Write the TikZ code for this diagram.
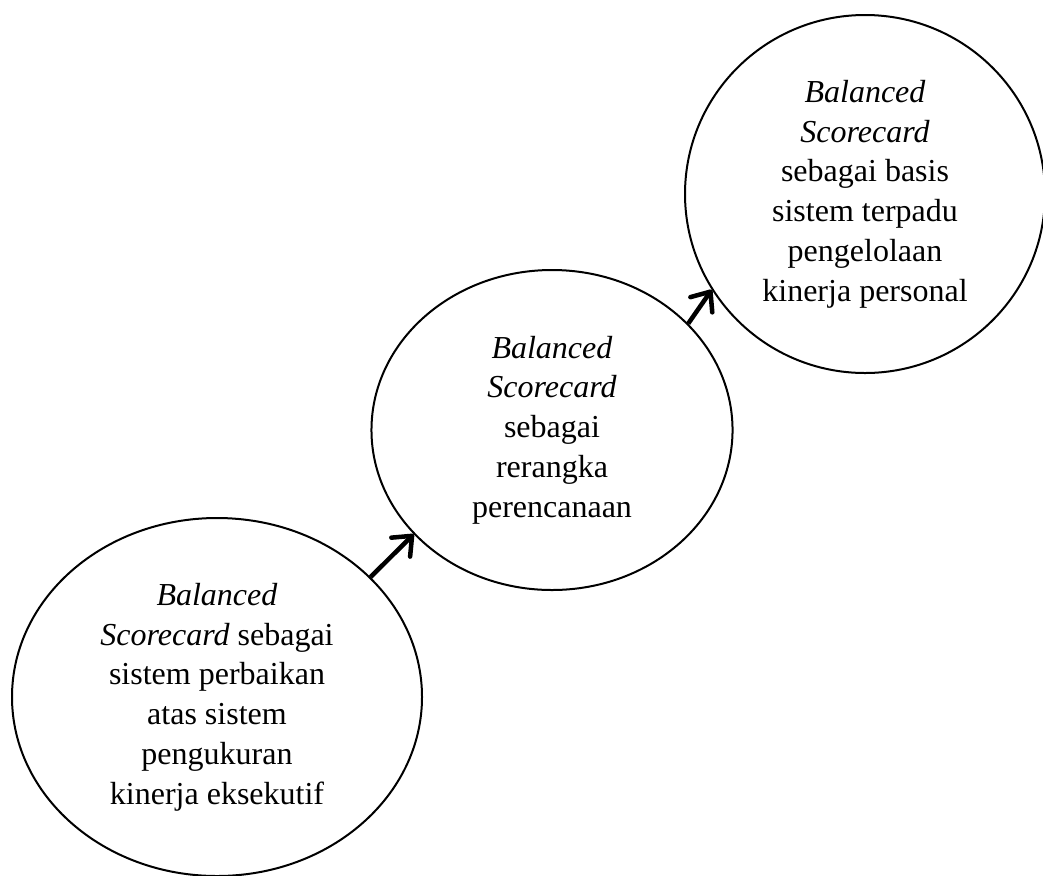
\documentclass[tikz,border=0pt]{standalone}
\usepackage{fontspec}
\setmainfont{Liberation Serif}
\usetikzlibrary{shapes.geometric,arrows.meta}

\begin{document}
\begin{tikzpicture}[x=0.375pt,y=-0.375pt,
  stage/.style={draw,ellipse,line width=0.75pt,inner sep=0pt,align=center,
    font=\fontsize{12}{14.9}\selectfont},
  flow/.style={line width=1.7pt,-{Straight Barb[length=6pt,width=10pt,round]}}]

% Fix the page size
\useasboundingbox (0,0) rectangle (1043,875);

% Draw the three stages
\node[stage, minimum width=153.75pt, minimum height=134.25pt] (exec) at (217,697)
  {\textit{Balanced}\\ \textit{Scorecard} sebagai\\ sistem perbaikan\\ atas sistem\\ pengukuran\\ kinerja eksekutif};
\node[stage, minimum width=135.4pt, minimum height=120pt] (plan) at (552,430)
  {\textit{Balanced}\\ \textit{Scorecard}\\ sebagai\\ rerangka\\ perencanaan};
\node[stage, minimum width=135pt, minimum height=134.25pt] (pers) at (865,194)
  {\textit{Balanced}\\ \textit{Scorecard}\\ sebagai basis\\ sistem terpadu\\ pengelolaan\\ kinerja personal};

% Draw the arrows
\draw[flow] (exec.38) -- (plan.217);
\draw[flow] (plan.38) -- (pers.212);

\end{tikzpicture}
\end{document}
